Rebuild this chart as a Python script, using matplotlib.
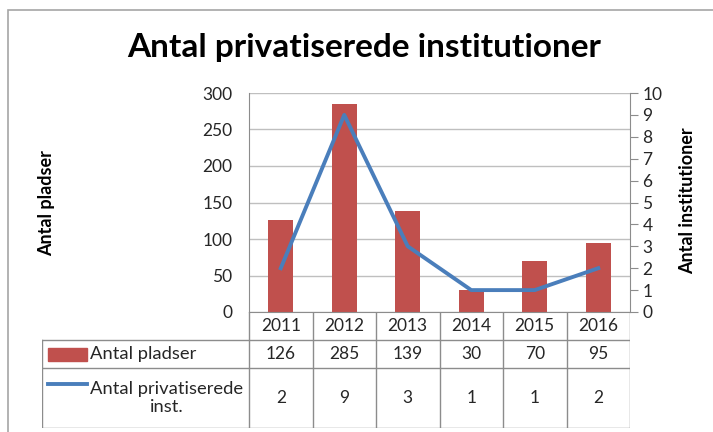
import numpy as np
import matplotlib.pyplot as plt
from matplotlib.patches import Rectangle
from matplotlib.lines import Line2D

plt.rcParams['font.family'] = ['Lato', 'DejaVu Sans']

# data
aar = ['2011', '2012', '2013', '2014', '2015', '2016']
pladser = [126, 285, 139, 30, 70, 95]
institutioner = [2, 9, 3, 1, 1, 2]
serie_navne = ['Antal pladser', 'Antal privatiserede\ninst.']

bar_farve = '#C0504D'
linje_farve = '#4A7EBB'
graa = '#8C8C8C'

W, H = 713, 432
fig = plt.figure(figsize=(W / 100, H / 100), dpi=100)


def fx(px):
    return px / W


def fy(py):
    return 1 - py / H


# ramme om diagrammet
fig.patches.append(Rectangle((fx(8), -0.1), 1.5, fy(10) + 0.1, transform=fig.transFigure,
                             fill=False, ec='#A6A6A6', lw=1.2))

# plotområde
left, right, top, bottom = 249, 630, 93, 312
ax = fig.add_axes([fx(left), fy(bottom), fx(right) - fx(left), fy(top) - fy(bottom)])
x = np.arange(len(aar))
ax.bar(x, pladser, width=0.4, color=bar_farve, zorder=2)
ax.set_xlim(-0.5, len(aar) - 0.5)
ax.set_ylim(0, 300)
ax.set_yticks(np.arange(0, 301, 50))
ax.set_xticks([])
ax.grid(axis='y', color='#BFBFBF', lw=1)
ax.set_axisbelow(True)
for s in ['top', 'right']:
    ax.spines[s].set_visible(False)
for s in ['left', 'bottom']:
    ax.spines[s].set_color(graa)
ax.tick_params(axis='y', length=0, labelsize=12.5, pad=12, colors='#262626')

ax2 = ax.twinx()
ax2.plot(x, institutioner, color=linje_farve, lw=2.8, zorder=3)
ax2.set_ylim(0, 10)
ax2.set_yticks(np.arange(0, 11, 1))
for s in ['top', 'left', 'bottom']:
    ax2.spines[s].set_visible(False)
ax2.spines['right'].set_color(graa)
ax2.tick_params(axis='y', direction='out', length=6, color=graa, labelsize=12.5,
                pad=3, labelcolor='#262626')

# titel og aksetitler
fig.text(fx(364), fy(48), 'Antal privatiserede institutioner', fontsize=24,
         fontweight='bold', ha='center', va='center')
fig.text(fx(47), fy(203), 'Antal pladser', rotation=90, fontsize=13,
         fontweight='bold', ha='center', va='center')
fig.text(fx(688), fy(201), 'Antal institutioner', rotation=90, fontsize=13,
         fontweight='bold', ha='center', va='center')

# datatabel
col_w = (right - left) / len(aar)
lab_w = (left - 42) / col_w
tax = fig.add_axes([fx(42), fy(428), fx(right) - fx(42), fy(bottom) - fy(428)])
tax.set_xlim(-lab_w, len(aar))
rows = [0, 28, 56, 116]
tax.set_ylim(rows[-1], 0)
tax.axis('off')

lkw = dict(color=graa, lw=1)
for i in range(len(aar) + 1):
    tax.plot([i, i], [rows[0], rows[-1]], **lkw)
tax.plot([-lab_w, -lab_w], [rows[1], rows[-1]], **lkw)
for r in rows[1:]:
    tax.plot([-lab_w, len(aar)], [r, r], **lkw)

tkw = dict(fontsize=12.5, ha='center', va='center', color='#262626')
for i in range(len(aar)):
    tax.text(i + 0.5, 14, aar[i], **tkw)
    tax.text(i + 0.5, 42, str(pladser[i]), **tkw)
    tax.text(i + 0.5, 86, str(institutioner[i]), **tkw)

sw0 = (48 - left) / col_w
sw1 = (87 - left) / col_w
tax.add_patch(Rectangle((sw0, 35.5), sw1 - sw0, 13, color=bar_farve))
tax.add_line(Line2D([sw0, sw1], [72, 72], color=linje_farve, lw=2.8))
tx = (90 - left) / col_w
tax.text(tx, 42, serie_navne[0], fontsize=13.2, ha='left', va='center', color='#262626')
tax.text(tx, 86, serie_navne[1], fontsize=13.2, ha='left', va='center',
         multialignment='center', color='#262626', linespacing=1.1)

plt.savefig('out.png', dpi=100)
